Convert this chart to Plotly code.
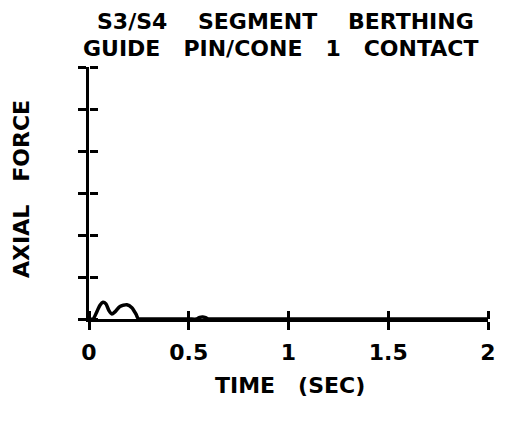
import plotly.graph_objects as go

# Data
time_sec = [0.0, 0.02, 0.04, 0.055, 0.07, 0.085, 0.10, 0.115, 0.13, 0.155, 0.19, 0.215, 0.235, 0.248, 0.26,
            0.50, 0.54, 0.555, 0.57, 0.585, 0.60, 0.62, 2.0]
axial_force = [0.0, 0.0, 0.18, 0.33, 0.40, 0.36, 0.2, 0.12, 0.17, 0.30, 0.34, 0.27, 0.12, 0.0, 0.0,
               0.0, 0.0, 0.04, 0.05, 0.03, 0.0, 0.0, 0.0]
x_ticks = [0, 0.5, 1, 1.5, 2]
x_tick_labels = ["0", "0.5", "1", "1.5", "2"]
y_ticks = [0, 1, 2, 3, 4, 5, 6]

title_lines = ["S3/S4    SEGMENT    BERTHING", "GUIDE   PIN/CONE   1   CONTACT"]
x_title = "TIME   (SEC)"
y_title = "AXIAL   FORCE"

FONT = "DejaVu Sans"

fig = go.Figure()
fig.add_trace(go.Scatter(x=time_sec, y=axial_force, mode="lines",
                         line=dict(color="black", width=3.5, shape="spline", smoothing=0.7),
                         hoverinfo="skip", showlegend=False))
# invisible trace that activates the overlay axes (inner half of the crossing ticks)
fig.add_trace(go.Scatter(x=[0], y=[0], xaxis="x2", yaxis="y2", mode="markers",
                         marker=dict(opacity=0), showlegend=False, hoverinfo="skip"))

axis_common = dict(showgrid=False, zeroline=False, color="black",
                   tickwidth=3, ticklen=8, tickcolor="black")

fig.update_layout(
    width=498, height=414,
    margin=dict(l=81, r=10, t=59, b=103),
    paper_bgcolor="white", plot_bgcolor="white",
    font=dict(family=FONT, color="black"),
    xaxis=dict(range=[0, 2], tickvals=x_ticks, ticktext=x_tick_labels, ticks="outside",
               tickfont=dict(family=FONT, size=22, weight="bold"), ticklabelstandoff=4,
               showline=True, linecolor="black", linewidth=3, **axis_common),
    yaxis=dict(range=[0, 6], tickvals=y_ticks, ticks="outside", showticklabels=False,
               showline=True, linecolor="black", linewidth=3, **axis_common),
    xaxis2=dict(range=[0, 2], tickvals=x_ticks, ticks="outside", showticklabels=False,
                showline=False, overlaying="x", anchor="free", position=0, side="top",
                **axis_common),
    yaxis2=dict(range=[0, 6], tickvals=y_ticks, ticks="outside", showticklabels=False,
                showline=False, overlaying="y", anchor="free", position=0, side="right",
                **axis_common),
)

fig.add_annotation(text="<b>" + title_lines[0] + "</b>", xref="paper", yref="paper",
                   x=0.493, y=1.0, yshift=46, xanchor="center", yanchor="middle",
                   showarrow=False, font=dict(family=FONT, size=22))
fig.add_annotation(text="<b>" + title_lines[1] + "</b>", xref="paper", yref="paper",
                   x=0.480, y=1.0, yshift=19, xanchor="center", yanchor="middle",
                   showarrow=False, font=dict(family=FONT, size=22))
fig.add_annotation(text="<b>" + x_title + "</b>", xref="paper", yref="paper",
                   x=0.504, y=0, yshift=-66, xanchor="center", yanchor="middle",
                   showarrow=False, font=dict(family=FONT, size=22))
fig.add_annotation(text="<b>" + y_title + "</b>", xref="paper", yref="paper",
                   x=0, y=0.516, xshift=-67, xanchor="center", yanchor="middle",
                   textangle=-90, showarrow=False, font=dict(family=FONT, size=22))

fig.write_html("out.html")
